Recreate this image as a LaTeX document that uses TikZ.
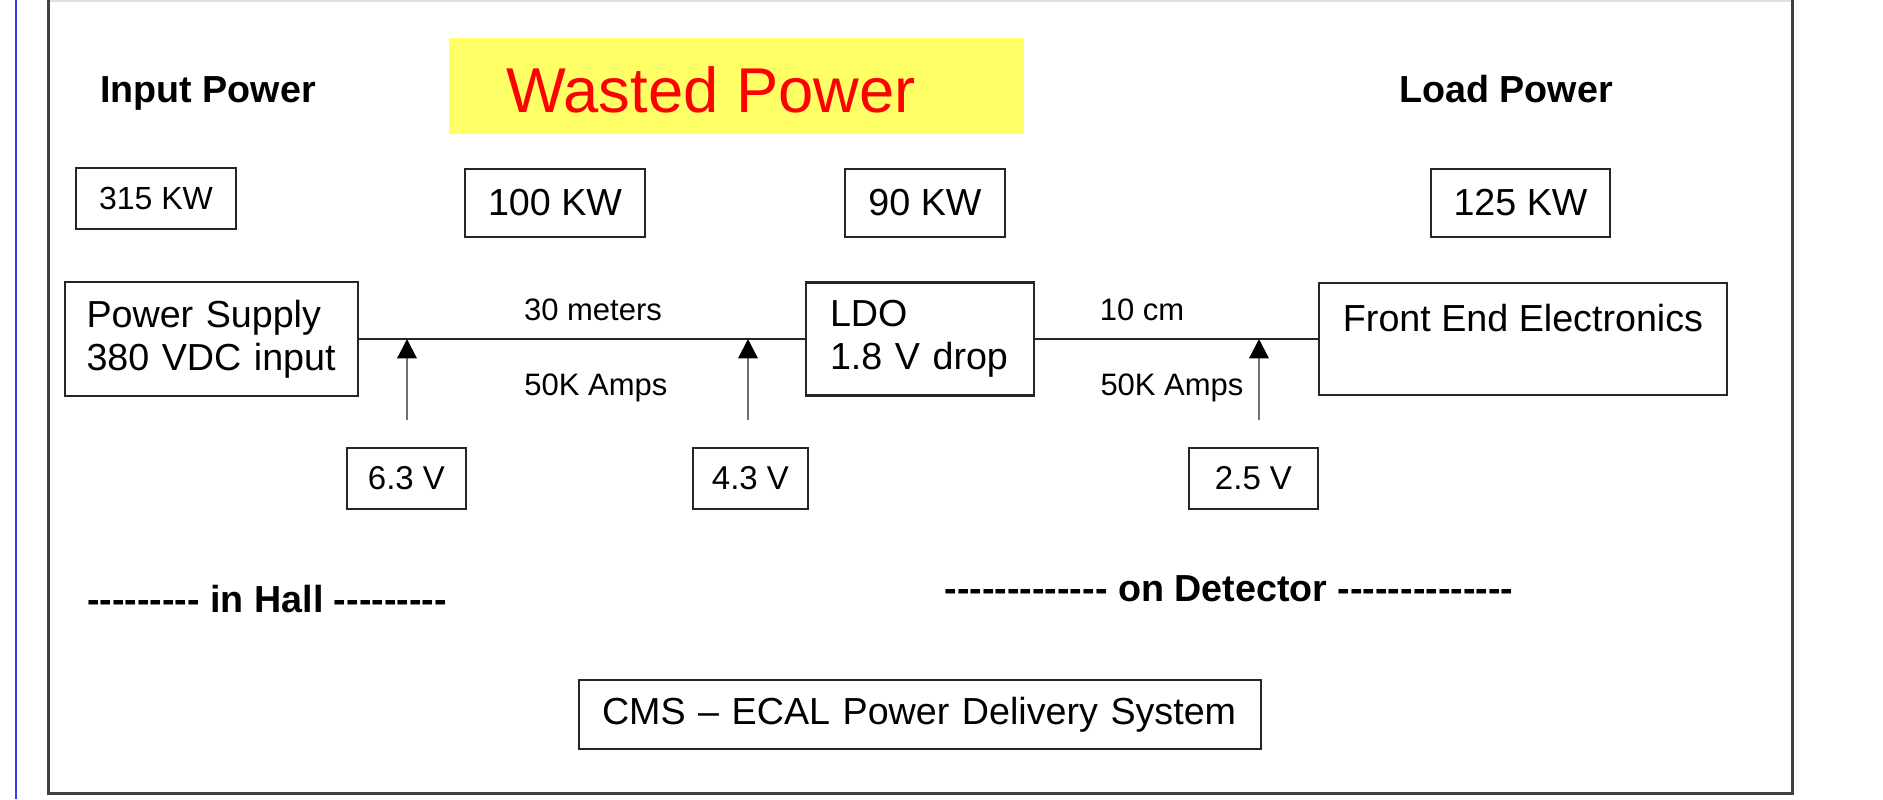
\documentclass[tikz,border=0pt]{standalone}
\usepackage{fontspec}
\setmainfont{Liberation Sans}
\usepackage{tikz}
\usetikzlibrary{arrows.meta,positioning}
\newdimen\pxu \pxu=0.3pt
\newcommand{\dashrun}[1]{\foreach \i in {1,...,#1}{-\kern0pt}}
\definecolor{wasteyellow}{HTML}{FFFF66}
\definecolor{wastered}{HTML}{FF0000}
\definecolor{framegray}{HTML}{404040}
\definecolor{slideblue}{HTML}{3A3AF0}
\definecolor{tapgray}{HTML}{707070}
\tikzset{
  block/.style={draw=black!85, line width=0.7pt, inner sep=0pt, font=\fontsize{11.3}{12.9}\selectfont},
  kwbox/.style={draw=black!85, line width=0.7pt, minimum height=68\pxu, inner sep=0pt, font=\fontsize{11.3}{13}\selectfont},
  voltbox/.style={draw=black!85, line width=0.7pt, minimum height=61\pxu, inner sep=0pt, font=\fontsize{9.9}{12}\selectfont},
  heading/.style={anchor=base, inner sep=0pt, font=\fontsize{11.3}{13}\selectfont\bfseries},
  cable/.style={anchor=base, inner sep=0pt, font=\fontsize{9.3}{11}\selectfont},
  wire/.style={draw=black!85, line width=0.7pt},
  tap/.style={-{Triangle[length=5.8pt,width=5.8pt,color=black]}, draw=tapgray, line width=0.7pt}
}

\begin{document}
\begin{tikzpicture}[x=0.3pt, y=-0.3pt]
  \useasboundingbox (0,0) rectangle (1883,799);
  % slide frame
  \draw[slideblue, line width=0.8pt] (16,0) -- (16,799);
  \draw[black!12, line width=0.4pt] (48,1) -- (1792,1);
  \draw[framegray, line width=0.9pt] (48,0) -- (48,793) -- (1792,793) -- (1792,0);

  % headings
  \node[fill=wasteyellow, minimum width=575\pxu, minimum height=96\pxu, inner sep=0pt] (wastebg) at (736.5,86) {};
  \node[anchor=base, inner sep=0pt, text=wastered, font=\fontsize{19}{22}\selectfont] (wasted) at (711,112) {Wasted Power};
  \node[heading] (inlabel) at (208,102) {Input Power};
  \node[heading] (loadlabel) at (1506,102) {Load Power};

  % power figures
  \node[kwbox, minimum width=160\pxu, minimum height=61\pxu, font=\fontsize{9.6}{11}\selectfont] (kwin) at (156,198.5) {315 KW};
  \node[kwbox, minimum width=180\pxu] (kwcable) at (555,203) {100 KW};
  \node[kwbox, minimum width=160\pxu] (kwldo) at (925,203) {90 KW};
  \node[kwbox, minimum width=179\pxu] (kwload) at (1520.5,203) {125 KW};

  % delivery chain
  \node[block, minimum width=293\pxu, minimum height=114\pxu, text width=250\pxu, align=left] (supply) at (211.5,339) {Power Supply\\380 VDC input};
  \node[block, minimum width=228\pxu, minimum height=113\pxu, text width=180\pxu, align=left] (ldo) at (920,339) {LDO\\1.8 V drop};
  \node[block, minimum width=408\pxu, minimum height=112\pxu, align=center] (fee) at (1523,339) {Front End Electronics\\\mbox{}};

  \draw[wire] (supply.east) -- (ldo.west);
  \draw[wire] (ldo.east) -- (fee.west);

  \node[cable] (len1) at (593,320) {30 meters};
  \node[cable] (amp1) at (596,395) {50K Amps};
  \node[cable] (len2) at (1142,320) {10 cm};
  \node[cable] (amp2) at (1172,395) {50K Amps};

  % voltages along the cable
  \coordinate (tap1) at (407,420);
  \coordinate (tap2) at (748,420);
  \coordinate (tap3) at (1259,420);
  \draw[tap] (tap1) -- (tap1 |- supply.east);
  \draw[tap] (tap2) -- (tap2 |- supply.east);
  \draw[tap] (tap3) -- (tap3 |- fee.west);

  \node[voltbox, minimum width=119\pxu] (v63) at (406.5,478.5) {6.3 V};
  \node[voltbox, minimum width=115\pxu] (v43) at (750.5,478.5) {4.3 V};
  \node[voltbox, minimum width=129\pxu] (v25) at (1253.5,478.5) {2.5 V};

  % locations
  \node[heading] (hall) at (267,612) {\dashrun{9} in Hall \dashrun{9}};
  \node[heading] (detector) at (1229,601) {\dashrun{13} on Detector \dashrun{14}};

  \node[block, minimum width=682\pxu, minimum height=69\pxu, text width=636\pxu, align=left] (title) at (920,714.5) {CMS – ECAL Power Delivery System};
\end{tikzpicture}
\end{document}
